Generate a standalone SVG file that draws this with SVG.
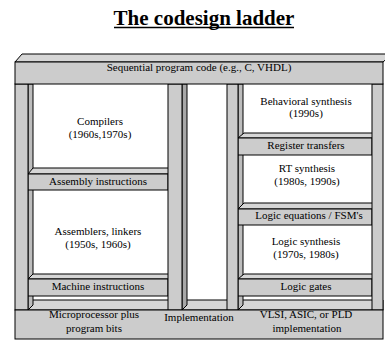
<svg xmlns="http://www.w3.org/2000/svg" width="385" height="340" viewBox="0 0 385 340">
<style>
.f{fill:#cccccc;stroke:#000;stroke-width:1}
.t{fill:#d6d6d6;stroke:#000;stroke-width:1}
.s{fill:#bdbdbd;stroke:#000;stroke-width:1}
.sd{fill:#a8a8a8;stroke:#000;stroke-width:1}
text{font-family:"Liberation Serif","Times New Roman",serif;font-size:11px;fill:#000;text-anchor:middle}
.title{font-size:21px;font-weight:bold}
</style>
<rect width="385" height="340" fill="#fff"/>
<g id="title">
<text class="title" x="204" y="25">The codesign ladder</text>
<line x1="114" y1="27.5" x2="294" y2="27.5" stroke="#000" stroke-width="1.5"/>
</g>
<g id="floor">
<polygon class="t" points="15,310 25,300 383,300 383,310"/>
</g>
<g id="pillar-sides">
<polygon class="s" points="28,84 33,84 33,305 28,310"/>
<polygon class="sd" points="182,84 187,84 187,305 182,310"/>
<polygon class="s" points="238,84 243,84 243,305 238,310"/>
</g>
<g id="assembly-instructions">
<polygon class="t" points="28,174 33,168 173,168 168,174"/>
<rect class="f" x="28" y="174" width="140" height="16"/>
<text x="98" y="185">Assembly instructions</text>
</g>
<g id="machine-instructions">
<polygon class="t" points="28,279 33,274 173,274 168,279"/>
<rect class="f" x="28" y="279" width="140" height="17"/>
<text x="98" y="290">Machine instructions</text>
</g>
<g id="register-transfers">
<polygon class="t" points="238,138 244,133 378,133 372,138"/>
<rect class="f" x="238" y="138" width="134" height="17"/>
<text x="306" y="149">Register transfers</text>
</g>
<g id="logic-equations">
<polygon class="t" points="238,209 244,203 378,203 372,209"/>
<rect class="f" x="238" y="209" width="134" height="16"/>
<text x="309" y="219">Logic equations / FSM's</text>
</g>
<g id="logic-gates">
<polygon class="t" points="238,279 244,274 378,274 372,279"/>
<rect class="f" x="238" y="279" width="134" height="17"/>
<text x="306" y="290">Logic gates</text>
</g>
<g id="pillars">
<rect class="f" x="15" y="84" width="13" height="226"/>
<rect class="f" x="168" y="84" width="14" height="226"/>
<rect class="f" x="227" y="84" width="11" height="226"/>
<rect class="f" x="372" y="84" width="11" height="226"/>
</g>
<g id="sequential-code">
<polygon class="t" points="15,62 22,54 392,54 383,62"/>
<rect class="f" x="15" y="62" width="368" height="22"/>
<text x="199" y="71">Sequential program code (e.g., C, VHDL)</text>
</g>
<g id="base">
<rect class="f" x="15" y="310" width="368" height="29"/>
<text x="94" y="318">Microprocessor plus</text>
<text x="94" y="332">program bits</text>
<text x="199" y="321">Implementation</text>
<text x="306" y="318">VLSI, ASIC, or PLD</text>
<text x="307" y="332">implementation</text>
</g>
<g id="compilers">
<text x="100" y="125">Compilers</text>
<text x="100" y="138">(1960s,1970s)</text>
</g>
<g id="assemblers">
<text x="98" y="235">Assemblers, linkers</text>
<text x="98" y="248">(1950s, 1960s)</text>
</g>
<g id="behavioral-synthesis">
<text x="306" y="105">Behavioral synthesis</text>
<text x="306" y="117">(1990s)</text>
</g>
<g id="rt-synthesis">
<text x="307" y="172">RT synthesis</text>
<text x="307" y="185">(1980s, 1990s)</text>
</g>
<g id="logic-synthesis">
<text x="306" y="245">Logic synthesis</text>
<text x="306" y="258">(1970s, 1980s)</text>
</g>
<g id="connectors"/>
</svg>
